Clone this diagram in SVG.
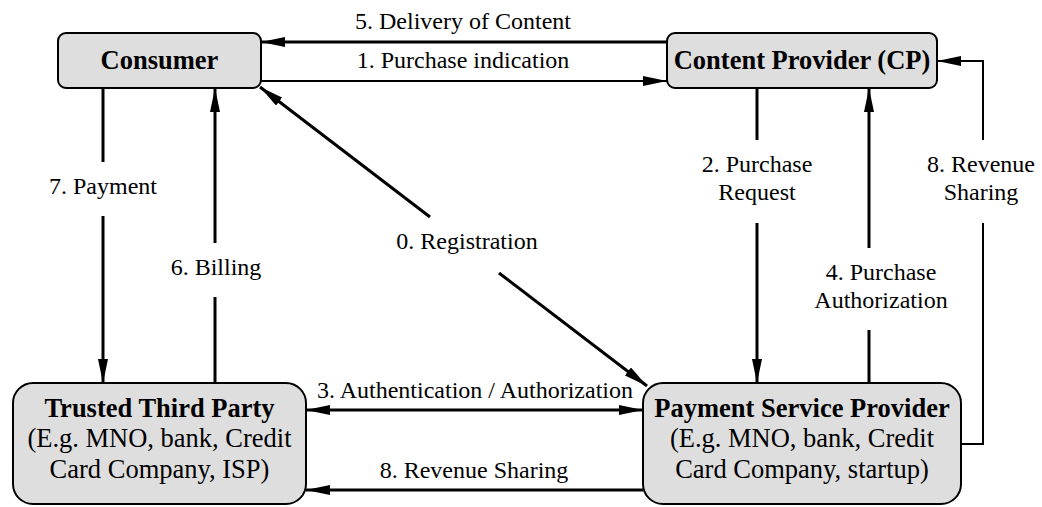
<svg xmlns="http://www.w3.org/2000/svg" width="1042" height="507" viewBox="0 0 1042 507">
  <style>
    .node { fill: #dedede; stroke: #000; stroke-width: 2; }
    text { font-family: 'Liberation Serif', Tinos, 'Times New Roman', 'Nimbus Roman', 'DejaVu Serif', serif; fill: #000; text-anchor: middle; }
    .title { font-weight: bold; font-size: 26.5px; }
    .body { font-size: 26.5px; }
    .lbl { font-size: 24px; }
    .thick { fill: none; stroke: #000; stroke-width: 3; }
    .thin { fill: none; stroke: #000; stroke-width: 2; }
  </style>
  <defs>
    <marker id="head" markerUnits="userSpaceOnUse" markerWidth="24" markerHeight="10" refX="24" refY="5" orient="auto-start-reverse">
      <path d="M0,0 L24,5 L0,10 z" fill="#000"/>
    </marker>
  </defs>

  <rect width="1042" height="507" fill="#fff"/>

  <!-- connectors -->
  <g id="connectors" font-family="Liberation Serif, Times New Roman, serif">
    <!-- 5. Delivery of Content -->
    <path class="thick" d="M667,42 H261" marker-end="url(#head)"/>
    <text class="lbl" x="463" y="29">5. Delivery of Content</text>
    <!-- 1. Purchase indication -->
    <path class="thin" d="M261,81 H667" marker-end="url(#head)"/>
    <text class="lbl" x="463" y="68">1. Purchase indication</text>
    <!-- 7. Payment -->
    <path class="thick" d="M103,88 V162"/>
    <path class="thick" d="M103,216 V383" marker-end="url(#head)"/>
    <text class="lbl" x="103" y="194">7. Payment</text>
    <!-- 6. Billing -->
    <path class="thick" d="M215,383 V297"/>
    <path class="thick" d="M215,243 V88" marker-end="url(#head)"/>
    <text class="lbl" x="216" y="275">6. Billing</text>
    <!-- 0. Registration -->
    <path class="thick" d="M430,217 L260,87" marker-end="url(#head)"/>
    <path class="thick" d="M499,273 L647,386" marker-end="url(#head)"/>
    <text class="lbl" x="467" y="249">0. Registration</text>
    <!-- 2. Purchase Request -->
    <path class="thick" d="M757,88 V140"/>
    <path class="thick" d="M757,223 V383" marker-end="url(#head)"/>
    <text class="lbl" x="757" y="172">2. Purchase</text>
    <text class="lbl" x="757" y="200">Request</text>
    <!-- 4. Purchase Authorization -->
    <path class="thick" d="M869,383 V330"/>
    <path class="thick" d="M869,248 V88" marker-end="url(#head)"/>
    <text class="lbl" x="881" y="280">4. Purchase</text>
    <text class="lbl" x="881" y="308">Authorization</text>
    <!-- 8. Revenue Sharing (PSP to CP) -->
    <path class="thin" d="M961,444 H983 V223"/>
    <path class="thin" d="M983,140 V61 H937" marker-end="url(#head)"/>
    <text class="lbl" x="981" y="172">8. Revenue</text>
    <text class="lbl" x="981" y="200">Sharing</text>
    <!-- 3. Authentication / Authorization -->
    <path class="thick" d="M306,410 H643" marker-start="url(#head)" marker-end="url(#head)"/>
    <text class="lbl" x="475" y="398">3. Authentication / Authorization</text>
    <!-- 8. Revenue Sharing (PSP to TTP) -->
    <path class="thick" d="M643,490 H306" marker-end="url(#head)"/>
    <text class="lbl" x="474" y="478">8. Revenue Sharing</text>
  </g>

  <!-- nodes -->
  <g id="consumer">
    <rect class="node" x="58" y="33" width="203" height="55" rx="8"/>
    <text class="title" x="159.5" y="69">Consumer</text>
  </g>
  <g id="content-provider">
    <rect class="node" x="667" y="33" width="270" height="55" rx="8"/>
    <text class="title" x="802" y="69">Content Provider (CP)</text>
  </g>
  <g id="trusted-third-party">
    <rect class="node" x="13" y="383" width="293" height="121" rx="20"/>
    <text class="title" x="159.5" y="417">Trusted Third Party</text>
    <text class="body" x="159.5" y="447">(E.g. MNO, bank, Credit</text>
    <text class="body" x="159.5" y="478">Card Company, ISP)</text>
  </g>
  <g id="payment-service-provider">
    <rect class="node" x="643" y="383" width="318" height="121" rx="20"/>
    <text class="title" x="802" y="417">Payment Service Provider</text>
    <text class="body" x="802" y="447">(E.g. MNO, bank, Credit</text>
    <text class="body" x="802" y="478">Card Company, startup)</text>
  </g>
</svg>
